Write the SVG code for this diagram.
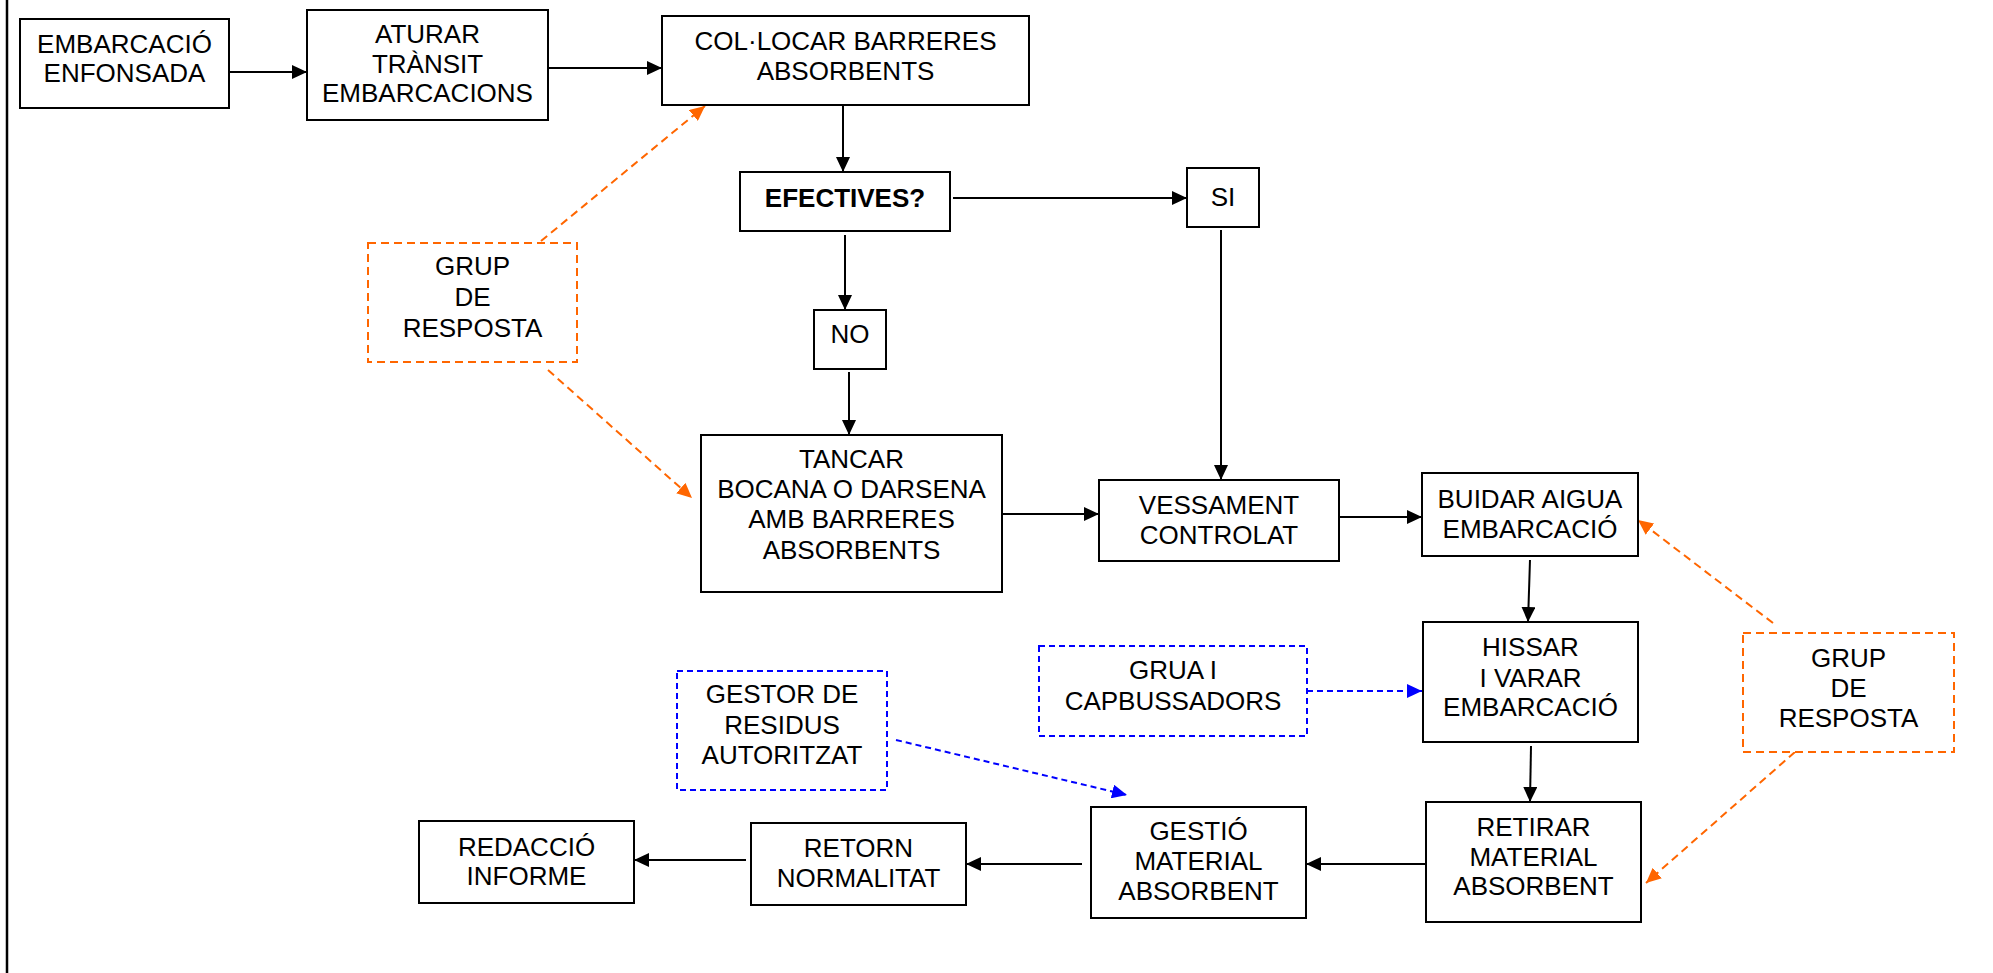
<svg xmlns="http://www.w3.org/2000/svg" width="1993" height="973" viewBox="0 0 1993 973">
<style>
.box{fill:#fff;stroke:#000;stroke-width:2}
.ob{fill:#fff;stroke:#FF6600;stroke-width:2;stroke-dasharray:8,5}
.bb{fill:#fff;stroke:#0000FF;stroke-width:2;stroke-dasharray:6,4}
text{font-family:"Liberation Sans",Arial,sans-serif;font-size:26px;fill:#000;text-anchor:middle}
.b{font-weight:bold}
.c{fill:none;stroke:#000;stroke-width:2}
.co{fill:none;stroke:#FF6600;stroke-width:2;stroke-dasharray:8,5}
.cb{fill:none;stroke:#0000FF;stroke-width:2;stroke-dasharray:6,4}
</style>
<defs>
<marker id="ak" markerUnits="userSpaceOnUse" markerWidth="16" markerHeight="14" refX="15" refY="7" orient="auto"><path d="M0,0 L15,7 L0,14 z" fill="#000"/></marker>
<marker id="ao" markerUnits="userSpaceOnUse" markerWidth="16" markerHeight="14" refX="15" refY="7" orient="auto"><path d="M0,0 L15,7 L0,14 z" fill="#FF6600"/></marker>
<marker id="ab" markerUnits="userSpaceOnUse" markerWidth="16" markerHeight="14" refX="15" refY="7" orient="auto"><path d="M0,0 L15,7 L0,14 z" fill="#0000FF"/></marker>
</defs>
<line x1="7" y1="0" x2="7" y2="973" stroke="#000" stroke-width="2.5"/>
<g id="connectors">
<line class="c" x1="229" y1="72" x2="307" y2="72" marker-end="url(#ak)"/>
<line class="c" x1="548" y1="68" x2="662" y2="68" marker-end="url(#ak)"/>
<line class="c" x1="843" y1="105" x2="843" y2="172" marker-end="url(#ak)"/>
<line class="c" x1="953" y1="198" x2="1187" y2="198" marker-end="url(#ak)"/>
<line class="c" x1="845" y1="235" x2="845" y2="310" marker-end="url(#ak)"/>
<line class="c" x1="849" y1="372" x2="849" y2="435" marker-end="url(#ak)"/>
<line class="c" x1="1221" y1="230" x2="1221" y2="480" marker-end="url(#ak)"/>
<line class="c" x1="1002" y1="514" x2="1099" y2="514" marker-end="url(#ak)"/>
<line class="c" x1="1339" y1="517" x2="1422" y2="517" marker-end="url(#ak)"/>
<line class="c" x1="1530" y1="560" x2="1528" y2="622" marker-end="url(#ak)"/>
<line class="c" x1="1531" y1="746" x2="1530" y2="802" marker-end="url(#ak)"/>
<line class="c" x1="1426" y1="864" x2="1306" y2="864" marker-end="url(#ak)"/>
<line class="c" x1="1082" y1="864" x2="966" y2="864" marker-end="url(#ak)"/>
<line class="c" x1="746" y1="860" x2="634" y2="860" marker-end="url(#ak)"/>
<line class="co" x1="541" y1="241" x2="705" y2="106" marker-end="url(#ao)"/>
<line class="co" x1="548" y1="370" x2="692" y2="498" marker-end="url(#ao)"/>
<line class="co" x1="1773" y1="623" x2="1638" y2="520" marker-end="url(#ao)"/>
<line class="co" x1="1795" y1="752" x2="1646" y2="883" marker-end="url(#ao)"/>
<line class="cb" x1="1307" y1="691" x2="1422" y2="691" marker-end="url(#ab)"/>
<line class="cb" x1="896" y1="740" x2="1127" y2="795" marker-end="url(#ab)"/>
</g>
<g id="n1"><rect class="box" x="20" y="19" width="209" height="89"/><text x="124.5" y="53">EMBARCACIÓ</text><text x="124.5" y="82">ENFONSADA</text></g>
<g id="n2"><rect class="box" x="307" y="10" width="241" height="110"/><text x="427.5" y="43">ATURAR</text><text x="427.5" y="73">TRÀNSIT</text><text x="427.5" y="102">EMBARCACIONS</text></g>
<g id="n3"><rect class="box" x="662" y="16" width="367" height="89"/><text x="845.5" y="50">COL·LOCAR BARRERES</text><text x="845.5" y="80">ABSORBENTS</text></g>
<g id="n4"><rect class="box" x="740" y="172" width="210" height="59"/><text class="b" x="845" y="207">EFECTIVES?</text></g>
<g id="n5"><rect class="box" x="1187" y="168" width="72" height="59"/><text x="1223" y="206">SI</text></g>
<g id="n6"><rect class="box" x="814" y="310" width="72" height="59"/><text x="850" y="343">NO</text></g>
<g id="n7"><rect class="ob" x="368" y="243" width="209" height="119"/><text x="472.5" y="275">GRUP</text><text x="472.5" y="306">DE</text><text x="472.5" y="337">RESPOSTA</text></g>
<g id="n8"><rect class="box" x="701" y="435" width="301" height="157"/><text x="851.5" y="468">TANCAR</text><text x="851.5" y="498">BOCANA O DARSENA</text><text x="851.5" y="528">AMB BARRERES</text><text x="851.5" y="559">ABSORBENTS</text></g>
<g id="n9"><rect class="box" x="1099" y="480" width="240" height="81"/><text x="1219" y="514">VESSAMENT</text><text x="1219" y="544">CONTROLAT</text></g>
<g id="n10"><rect class="box" x="1422" y="473" width="216" height="83"/><text x="1530" y="508">BUIDAR AIGUA</text><text x="1530" y="538">EMBARCACIÓ</text></g>
<g id="n11"><rect class="box" x="1423" y="622" width="215" height="120"/><text x="1530.5" y="656">HISSAR</text><text x="1530.5" y="687">I VARAR</text><text x="1530.5" y="716">EMBARCACIÓ</text></g>
<g id="n12"><rect class="ob" x="1743" y="633" width="211" height="119"/><text x="1848.5" y="667">GRUP</text><text x="1848.5" y="697">DE</text><text x="1848.5" y="727">RESPOSTA</text></g>
<g id="n13"><rect class="bb" x="1039" y="646" width="268" height="90"/><text x="1173" y="679">GRUA I</text><text x="1173" y="710">CAPBUSSADORS</text></g>
<g id="n14"><rect class="bb" x="677" y="671" width="210" height="119"/><text x="782" y="703">GESTOR DE</text><text x="782" y="734">RESIDUS</text><text x="782" y="764">AUTORITZAT</text></g>
<g id="n15"><rect class="box" x="1426" y="802" width="215" height="120"/><text x="1533.5" y="836">RETIRAR</text><text x="1533.5" y="866">MATERIAL</text><text x="1533.5" y="895">ABSORBENT</text></g>
<g id="n16"><rect class="box" x="1091" y="807" width="215" height="111"/><text x="1198.5" y="840">GESTIÓ</text><text x="1198.5" y="870">MATERIAL</text><text x="1198.5" y="900">ABSORBENT</text></g>
<g id="n17"><rect class="box" x="751" y="823" width="215" height="82"/><text x="858.5" y="857">RETORN</text><text x="858.5" y="887">NORMALITAT</text></g>
<g id="n18"><rect class="box" x="419" y="821" width="215" height="82"/><text x="526.5" y="856">REDACCIÓ</text><text x="526.5" y="885">INFORME</text></g>
</svg>
